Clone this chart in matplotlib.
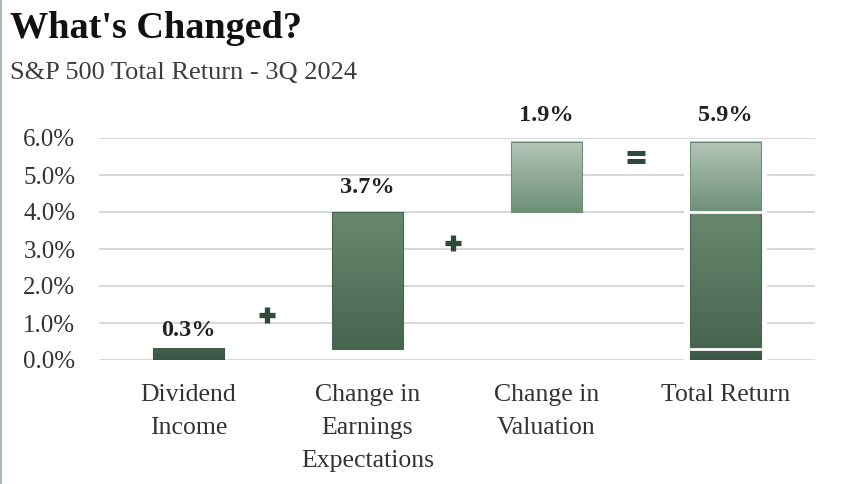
import matplotlib
matplotlib.use('Agg')
import matplotlib.pyplot as plt
import numpy as np
from matplotlib.colors import LinearSegmentedColormap
from matplotlib.lines import Line2D

# data
categories = ['Dividend\nIncome', 'Change in\nEarnings\nExpectations', 'Change in\nValuation', 'Total Return']
values = [0.3, 3.7, 1.9]
total = sum(values)
labels = ['0.3%', '3.7%', '1.9%', '5.9%']
yticks = [0, 1, 2, 3, 4, 5, 6]

# gradient colours (top, bottom) for each component
grads = [('#45634f', '#3b5645'),
         ('#67886f', '#48654f'),
         ('#b3c6b8', '#6f9077')]

plt.rcParams['font.family'] = ['Liberation Serif', 'DejaVu Serif']

fig = plt.figure(figsize=(8.45, 4.84), dpi=100)
ax = fig.add_axes([99/845, 124/484, 716/845, 222/484])

w = 0.4

def grad_bar(x, lo, hi, cols):
    cmap = LinearSegmentedColormap.from_list('g', [cols[1], cols[0]])
    img = np.linspace(0, 1, 100).reshape(-1, 1)
    ax.imshow(img, extent=[x - w/2, x + w/2, lo, hi], origin='lower',
              cmap=cmap, aspect='auto', zorder=3)
    ax.add_patch(plt.Rectangle((x - w/2, lo), w, hi - lo, fill=False,
                               edgecolor=cols[1], lw=0.8, zorder=4))

# waterfall components
bottoms = np.cumsum([0] + values[:-1])
for i, v in enumerate(values):
    grad_bar(i, bottoms[i], bottoms[i] + v, grads[i])

# total bar, stacked
for i, v in enumerate(values):
    grad_bar(3, bottoms[i], bottoms[i] + v, grads[i])
for b in bottoms[1:]:
    ax.plot([3 - w/2 - 0.01, 3 + w/2 + 0.01], [b, b], color='white', lw=2, zorder=5)

# gridline gaps around total bar
ax.bar(3, total + 0.03, width=w + 0.06, color='white', zorder=2)

tops = list(bottoms + np.array(values)) + [total]
offs = [0.2, 0.38, 0.42, 0.42]
for i, t in enumerate(tops):
    ax.text(i, t + offs[i], labels[i], ha='center', va='bottom', fontsize=17.5,
            fontweight='bold', color='#222222', clip_on=False)

# operators
opc = '#2f4a3b'
ax.plot([0.44, 1.48], [1.22, 3.16], ls='none', marker='+', ms=12, mew=3.8, color=opc)
ax.plot([2.5, 2.5], [5.38, 5.6], ls='none', marker='_', ms=13, mew=3.6, color=opc)

ax.set_xlim(-0.5, 3.5)
ax.set_ylim(0, 6)
ax.set_yticks(yticks)
ax.set_yticklabels(['%.1f%%' % t for t in yticks], fontsize=18, color='#333333')
ax.set_xticks(range(4))
ax.set_xticklabels(categories, fontsize=18.5, color='#333333', linespacing=1.65)
ax.tick_params(length=0)
ax.tick_params(axis='y', pad=17)
ax.tick_params(axis='x', pad=17)
ax.grid(axis='y', color='#d9d9d9', lw=1.5, zorder=0)
ax.set_axisbelow(True)
for s in ax.spines.values():
    s.set_visible(False)

fig.text(10/845, 1 - 38/484, "What's Changed?", fontsize=27.5, fontweight='bold',
         color='#111111', va='baseline')
fig.text(10/845, 1 - 79/484, 'S&P 500 Total Return - 3Q 2024', fontsize=19,
         color='#3d3d3d', va='baseline')
fig.add_artist(Line2D([0.001, 0.001], [0, 1], color='#a9b9aa', lw=1.5))

fig.savefig('out.png', dpi=100)
